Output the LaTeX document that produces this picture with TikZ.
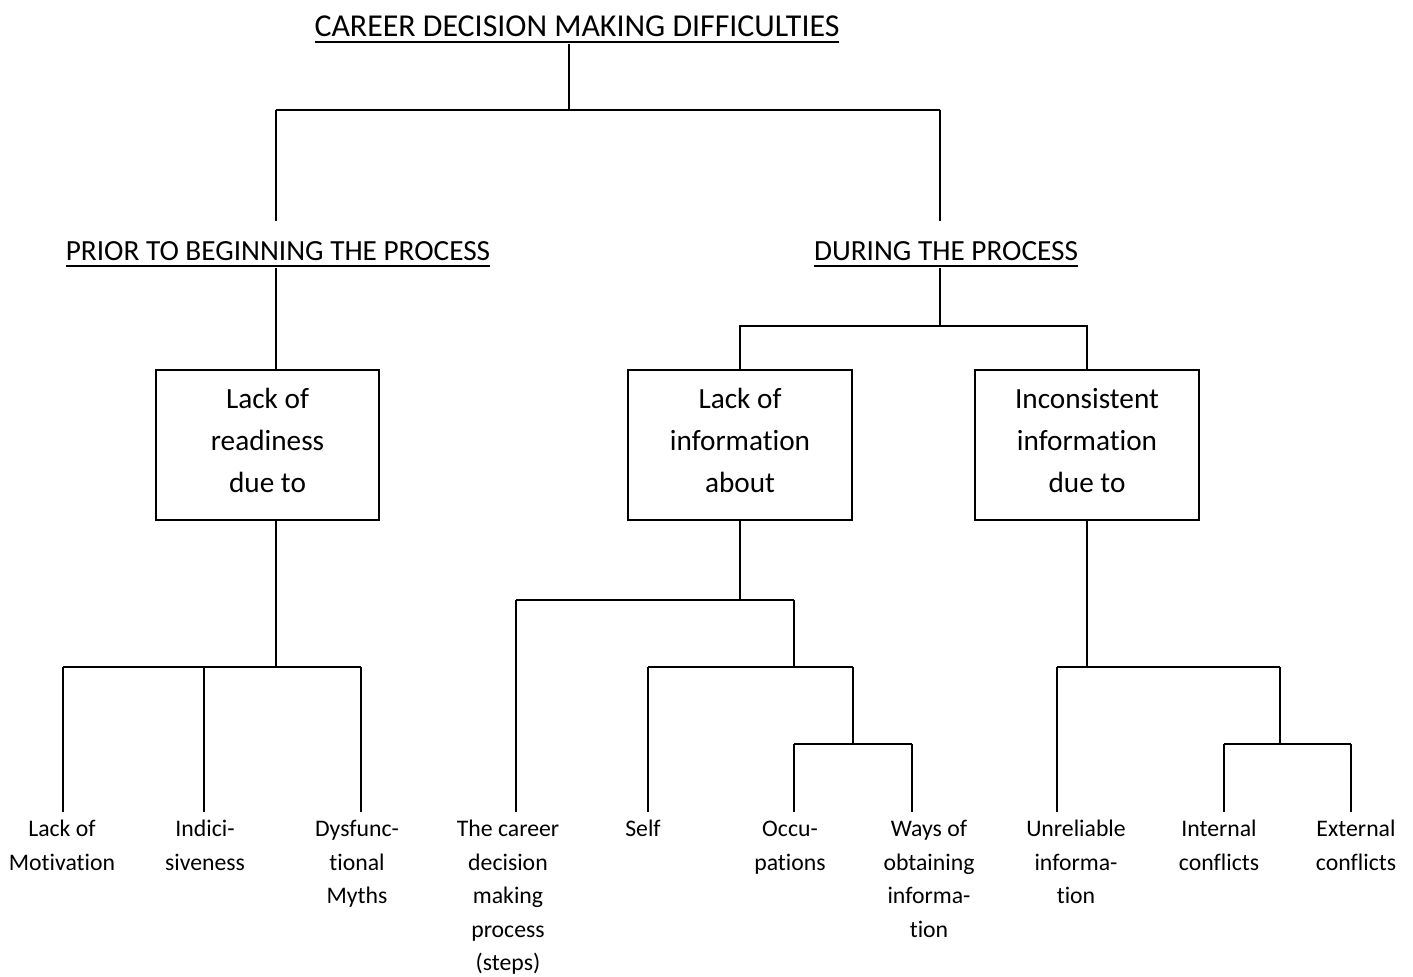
\documentclass[tikz,border=0pt]{standalone}
\usepackage{fontspec}
\setmainfont[Ligatures=NoCommon]{Carlito}
\newcommand\hdline[1]{\setbox0=\hbox{#1}\leavevmode\rlap{\copy0}\rule[-2.4pt]{\wd0}{0.9pt}}
\tikzset{
  title/.style={font=\fontsize{12.75}{15}\selectfont, inner sep=0pt, anchor=base},
  heading/.style={font=\fontsize{11.7}{14}\selectfont, inner sep=0pt, anchor=base},
  box/.style={draw, minimum width=89.5pt, minimum height=60pt, inner sep=0pt,
    align=center, font=\fontsize{11.7}{16.8}\selectfont,
    execute at end node={\rule[-4pt]{0pt}{4pt}}},
  leaf/.style={align=center, anchor=north, inner xsep=0pt, inner ysep=3pt,
    font=\fontsize{9.5}{13.4}\selectfont},
}
\begin{document}
\begin{tikzpicture}[x=0.4pt,y=-0.4pt,line width=0.8pt]
\useasboundingbox (0,0) rectangle (1413,977);

% headings
\node[title] (title) at (577,37) {\hdline{CAREER DECISION MAKING DIFFICULTIES}};
\node[heading] (prior) at (278,261) {\hdline{PRIOR TO BEGINNING THE PROCESS}};
\node[heading] (during) at (946,261) {\hdline{DURING THE PROCESS}};

% boxes
\node[box] (readiness) at (267.5,445) {Lack of\\readiness\\due to};
\node[box] (lackinfo) at (740,445) {Lack of\\information\\about};
\node[box] (inconsist) at (1087,445) {Inconsistent\\information\\due to};

% leaves
\node[leaf] (motivation) at (62,812) {Lack of\\Motivation};
\node[leaf] (indecis) at (205,812) {Indici-\\siveness};
\node[leaf] (myths) at (357,812) {Dysfunc-\\tional\\Myths};
\node[leaf] (steps) at (508,812) {The career\\decision\\making\\process\\(steps)};
\node[leaf] (self) at (643,812) {Self};
\node[leaf] (occup) at (790,812) {\vphantom{Lf}Occu-\\pations};
\node[leaf] (ways) at (929,812) {Ways of\\obtaining\\informa-\\tion};
\node[leaf] (unrel) at (1076,812) {Unreliable\\informa-\\tion};
\node[leaf] (internal) at (1219,812) {Internal\\conflicts};
\node[leaf] (external) at (1356,812) {External\\conflicts};

% top level
\coordinate (c0) at (569,110);
\coordinate (c1) at (276,110);
\coordinate (c2) at (940,110);
\draw (title.south -| c0) -- (c0);
\draw (c1) -- (c2);
\draw[shorten >=8pt] (c1) -- (c1 |- prior.north);
\draw[shorten >=8pt] (c2) -- (c2 |- during.north);

% prior to beginning
\coordinate (r0) at (276,667);
\coordinate (r1) at (63,667);
\coordinate (r2) at (204,667);
\coordinate (r3) at (361,667);
\draw (c1 |- prior.south) -- (c1 |- readiness.north);
\draw (c1 |- readiness.south) -- (r0);
\draw (r1) -- (r3);
\draw (r1) -- (r1 |- motivation.north);
\draw (r2) -- (r2 |- indecis.north);
\draw (r3) -- (r3 |- myths.north);

% during
\coordinate (c3) at (940,326);
\draw (c2 |- during.south) -- (c3);
\draw (lackinfo.north) |- (c3) -| (inconsist.north);

% lack of information
\coordinate (l1) at (516,600);
\coordinate (l2) at (794,600);
\coordinate (s1) at (648,667);
\coordinate (s2) at (853,667);
\coordinate (o1) at (794,744);
\coordinate (o2) at (912,744);
\draw (lackinfo.south) -- (lackinfo.south |- l1);
\draw (l1) -- (l2);
\draw (l1) -- (l1 |- steps.north);
\draw (l2) -- (l2 |- s1);
\draw (s1) -- (s2);
\draw (s1) -- (s1 |- self.north);
\draw (s2) -- (s2 |- o1);
\draw (o1) -- (o2);
\draw (o1) -- (o1 |- occup.north);
\draw (o2) -- (o2 |- ways.north);

% inconsistent information
\coordinate (i1) at (1057,667);
\coordinate (i2) at (1280,667);
\coordinate (e1) at (1224,744);
\coordinate (e2) at (1351,744);
\draw (inconsist.south) -- (inconsist.south |- i1);
\draw (i1) -- (i2);
\draw (i1) -- (i1 |- unrel.north);
\draw (i2) -- (i2 |- e1);
\draw (e1) -- (e2);
\draw (e1) -- (e1 |- internal.north);
\draw (e2) -- (e2 |- external.north);
\end{tikzpicture}
\end{document}
